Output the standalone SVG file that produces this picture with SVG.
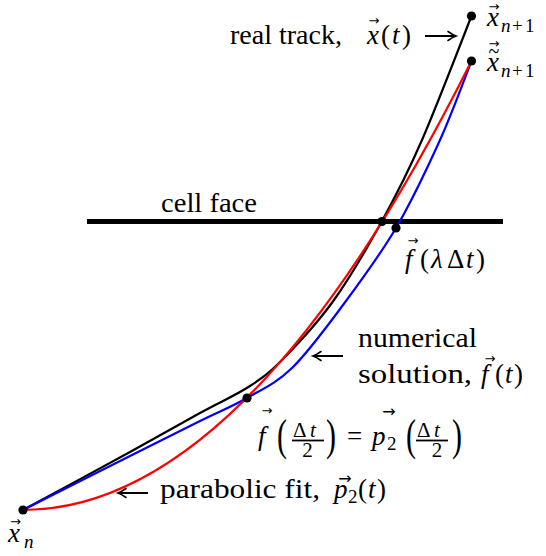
<svg xmlns="http://www.w3.org/2000/svg" width="546" height="556" viewBox="0 0 546 556">
<style>
.t{font-family:"Liberation Serif","DejaVu Serif","Times New Roman",serif;font-size:27px;fill:#000}
.i{font-style:italic}
.s{font-size:19px}
.f{font-size:21px}
.v{font-family:"DejaVu Sans",sans-serif;font-size:13px;fill:#000;text-anchor:middle}
.v2{font-family:"DejaVu Sans",sans-serif;font-size:16px;fill:#000;text-anchor:middle}
.m{text-anchor:middle}
.curve{fill:none;stroke-width:2.2;stroke-linecap:round;stroke-linejoin:round}
.ann{fill:none;stroke:#000;stroke-width:2}
.dot{fill:#000}
</style>
<defs>
<marker id="ah" viewBox="-9 -6 12 12" markerWidth="12" markerHeight="12" refX="0" refY="0" orient="auto" markerUnits="userSpaceOnUse" overflow="visible">
<path d="M-8,-4.5 Q-3,-1 0,0 Q-3,1 -8,4.5" fill="none" stroke="#000" stroke-width="1.6" stroke-linecap="round"/>
</marker>
</defs>
<rect width="546" height="556" fill="#fff"/>

<g id="cell-face">
<line x1="87" y1="221.5" x2="503" y2="221.5" stroke="#000" stroke-width="5"/>
<text class="t" x="161" y="212" textLength="96" lengthAdjust="spacingAndGlyphs">cell face</text>
</g>

<g id="connectors">
<path id="real-track" class="curve" stroke="#000" d="M23,510 C40.8,500.3 100.5,468.2 130,452 C159.5,435.8 180,424 200,413 C220,402 236,395.2 250,386 C264,376.8 270,372.3 284,358 C298,343.7 317.7,322.8 334,300 C350.3,277.2 367.3,247.7 382,221 C396.7,194.3 407.1,174.2 422,140 C436.9,105.8 463.3,36.7 471.5,16"/>
<path id="numerical" class="curve" stroke="#0000ff" d="M23,510 C40.8,501 100.5,470.8 130,456 C159.5,441.2 180.5,430.7 200,421 C219.5,411.3 231.7,406.8 247,398 C262.3,389.2 276,383.5 292,368 C308,352.5 325.7,328.3 343,305 C360.3,281.7 379.8,255.5 396,228 C412.2,200.5 427.4,167.8 440,140 C452.6,112.2 466.25,74.2 471.5,61"/>
<path id="parabolic" class="curve" stroke="#ff0000" d="M23,510 Q246.5,510 471.5,61"/>
<path class="ann" d="M425,36 H456" marker-end="url(#ah)"/>
<path class="ann" d="M343,356 H313" marker-end="url(#ah)"/>
<path class="ann" d="M148,493 H118" marker-end="url(#ah)"/>
</g>

<g id="xn">
<circle class="dot" cx="23" cy="510" r="4.6"/>
<text class="v" x="15.5" y="526">→</text>
<text class="t"><tspan class="i" x="8" y="542">x</tspan><tspan class="i s" x="24" y="548">n</tspan></text>
</g>

<g id="xn1">
<circle class="dot" cx="471.5" cy="16" r="4.6"/>
<text class="v" x="494" y="11">→</text>
<text class="t"><tspan class="i" x="487" y="26">x</tspan><tspan class="i s" x="501" y="32">n</tspan><tspan class="s" x="512" y="32">+</tspan><tspan class="s" x="525" y="32">1</tspan></text>
</g>

<g id="xtn1">
<circle class="dot" cx="471.5" cy="61" r="4.6"/>
<text class="v" x="494" y="48">→</text>
<text class="t m" x="494" y="58" style="font-size:20px">~</text>
<text class="t"><tspan class="i" x="487" y="71">x</tspan><tspan class="i s" x="501" y="77">n</tspan><tspan class="s" x="512" y="77">+</tspan><tspan class="s" x="525" y="77">1</tspan></text>
</g>

<g id="real-track-label">
<text class="t"><tspan x="230" y="44" textLength="112" lengthAdjust="spacingAndGlyphs">real track,</tspan><tspan class="i" x="367" y="44">x</tspan><tspan x="381" y="44">(</tspan><tspan class="i" x="392" y="44">t</tspan><tspan x="402" y="44">)</tspan></text>
<text class="v" x="374" y="25">→</text>
</g>

<g id="crossing">
<circle class="dot" cx="382" cy="221.5" r="4.6"/>
<circle class="dot" cx="396" cy="228" r="4.6"/>
<text class="v" x="413" y="245">→</text>
<text class="t"><tspan class="i" x="405" y="268">f</tspan><tspan x="420" y="268">(</tspan><tspan class="i" x="431" y="268">λ</tspan><tspan x="447" y="268">Δ</tspan><tspan class="i" x="466" y="268">t</tspan><tspan x="476" y="268">)</tspan></text>
</g>

<g id="numerical-label">
<text class="t" x="358" y="347" textLength="119" lengthAdjust="spacingAndGlyphs">numerical</text>
<text class="t"><tspan x="358" y="383" textLength="114" lengthAdjust="spacingAndGlyphs">solution,</tspan><tspan class="i" x="481" y="383">f</tspan><tspan x="495" y="383">(</tspan><tspan class="i" x="505" y="383">t</tspan><tspan x="514" y="383">)</tspan></text>
<text class="v" x="490" y="363">→</text>
</g>

<g id="midpoint">
<circle class="dot" cx="247" cy="398" r="4.6"/>
<text class="v" x="267" y="415">→</text>
<text class="t i" x="258" y="445">f</text>
<text class="t" transform="translate(277,449.5) scale(1,1.5)" style="font-size:30px">(</text>
<text class="t f"><tspan x="293" y="437">Δ</tspan><tspan class="i" x="310" y="437">t</tspan></text>
<rect x="292" y="439.6" width="32" height="1.8" fill="#000"/>
<text class="t f m" x="307.5" y="457">2</text>
<text class="t" transform="translate(326,449.5) scale(1,1.5)" style="font-size:30px">)</text>
<text class="t" x="347" y="445">=</text>
<text class="v2" x="389" y="417">→</text>
<text class="t"><tspan class="i" x="372" y="445">p</tspan><tspan class="s" x="387" y="450">2</tspan></text>
<text class="t" transform="translate(406,449.5) scale(1,1.5)" style="font-size:30px">(</text>
<text class="t f"><tspan x="417" y="437">Δ</tspan><tspan class="i" x="434" y="437">t</tspan></text>
<rect x="416" y="439.6" width="32" height="1.8" fill="#000"/>
<text class="t f m" x="437" y="457">2</text>
<text class="t" transform="translate(452,449.5) scale(1,1.5)" style="font-size:30px">)</text>
</g>

<g id="parabolic-label">
<text class="t"><tspan x="160" y="498" textLength="160" lengthAdjust="spacingAndGlyphs">parabolic fit,</tspan><tspan class="i" x="334" y="498">p</tspan><tspan class="s" x="348" y="503">2</tspan><tspan x="358" y="498">(</tspan><tspan class="i" x="368" y="498">t</tspan><tspan x="377" y="498">)</tspan></text>
<text class="v2" x="345" y="484">→</text>
</g>
</svg>
